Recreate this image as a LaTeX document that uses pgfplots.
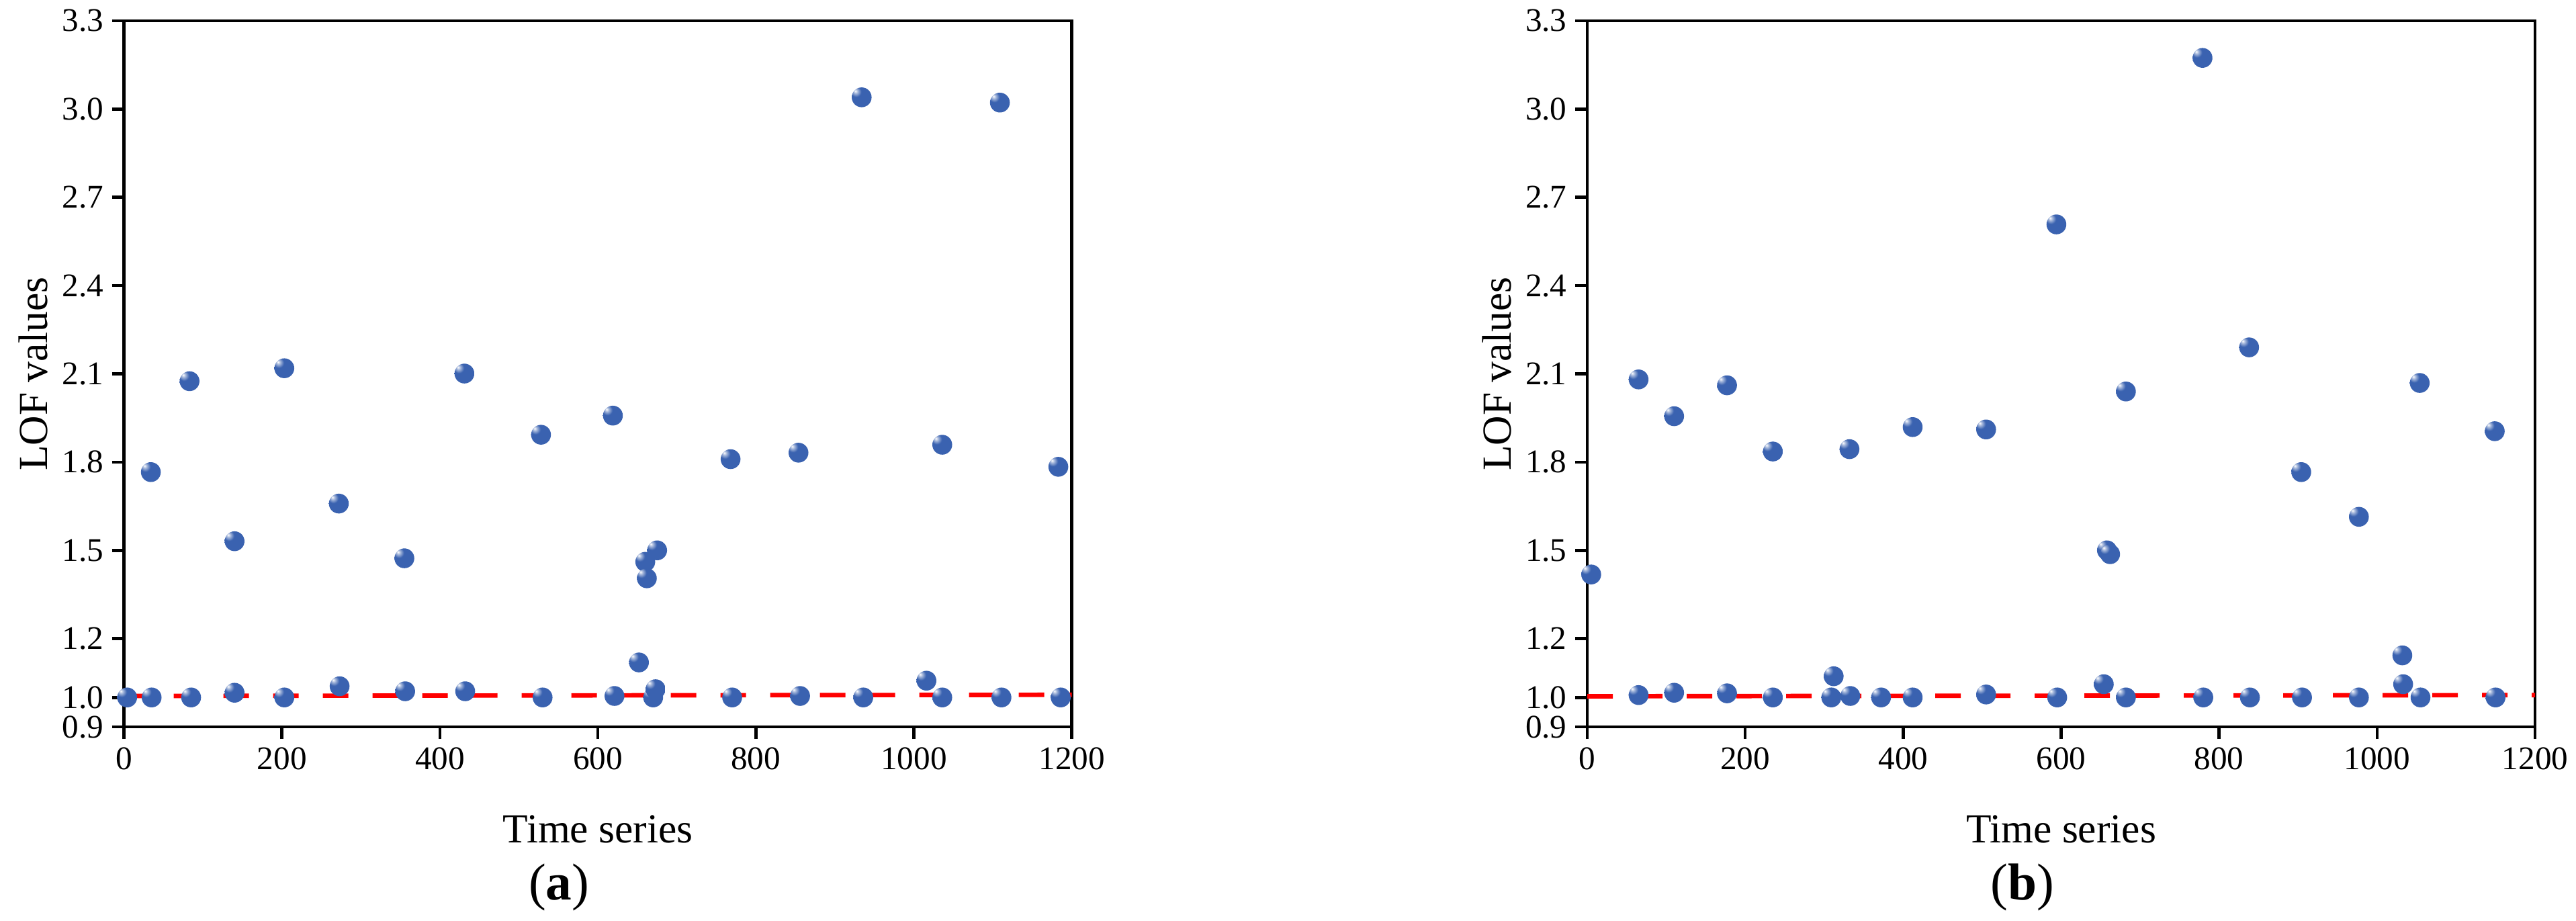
\documentclass[border=0pt]{standalone}
\usepackage{fontspec}
\setmainfont{Liberation Serif}
\usepackage{pgfplots}
\pgfplotsset{compat=1.18}
\definecolor{lofblue}{RGB}{58,98,176}
\pgfdeclareradialshading{lofball}{\pgfpoint{-16bp}{16bp}}{color(0bp)=(white); color(5bp)=(lofblue!45!white); color(13bp)=(lofblue); color(100bp)=(lofblue)}
\pgfdeclareplotmark{lofball}{\pgfpathcircle{\pgfpointorigin}{\pgfplotmarksize}\pgfshadepath{lofball}{0}\pgfusepath{}}

\pgfplotsset{lofstyle/.style={
    scale only axis, width=14.11cm, height=10.51cm, anchor=south west,
    xmin=0, xmax=1200, ymin=0.9, ymax=3.3,
    xtick={0,200,...,1200}, ytick={0.9,1.0,1.2,1.5,1.8,2.1,2.4,2.7,3.0,3.3},
    xtick pos=bottom, ytick pos=left, tick align=outside,
    major tick length=0.18cm, minor tick num=0,
    axis line style={line width=1.3pt}, every tick/.style={black,line width=1.3pt},
    tick label style={font=\fontsize{14}{16}\selectfont},
    /pgf/number format/assume math mode=true, /pgf/number format/1000 sep={},
    yticklabel style={/pgf/number format/fixed,/pgf/number format/fixed zerofill,/pgf/number format/precision=1},
    xlabel={Time series}, ylabel={LOF values},
    label style={font=\fontsize{17.5}{20}\selectfont},
    xlabel style={at={(axis description cs:0.5,0)}, anchor=center, yshift=-1.52cm},
    ylabel style={at={(axis description cs:0,0.5)}, anchor=center, rotate=0, yshift=1.35cm},
    clip=false}}

\begin{document}
\begin{tikzpicture}
\useasboundingbox (0,0) rectangle (38.35,13.7);

\begin{axis}[lofstyle, at={(1.846cm,2.88cm)}]
    \addplot[only marks, mark=lofball, mark size=4.2pt] coordinates {
        (34,1.766)(83,2.075)(140,1.531)(203,2.119)(272,1.659)(355,1.473)(431,2.101)
        (528,1.893)(619,1.958)(652,1.119)(660,1.461)(662,1.405)(675,1.500)(768,1.810)
        (854,1.832)(934,3.040)(1016,1.057)(1036,1.859)(1109,3.022)(1183,1.784)
        (4,1.0)(35,1.0)(85,1.0)(140,1.016)(203,1.0)(273,1.038)(356,1.021)(432,1.021)
        (530,1.0)(621,1.005)(670,1.0)(673,1.028)(770,1.0)(856,1.005)(936,1.0)
        (1036,1.0)(1111,1.0)(1186,1.0)};
    \addplot[red, line width=1.9pt, dash pattern=on 0.38cm off 0.36cm] coordinates {(0,1.005)(1200,1.009)};
    \node[font=\fontsize{22}{24}\selectfont] at (axis description cs:0.5,0) [xshift=-0.58cm, yshift=-2.39cm] {(\textbf{a})};
\end{axis}

\begin{axis}[lofstyle, at={(23.63cm,2.88cm)}]
    \addplot[only marks, mark=lofball, mark size=4.2pt] coordinates {
        (5,1.418)(65,2.081)(110,1.956)(177,2.061)(235,1.836)(332,1.844)(412,1.919)
        (505,1.911)(594,2.608)(658,1.500)(662,1.487)(682,2.040)(779,3.174)(838,2.190)
        (904,1.766)(977,1.614)(1032,1.143)(1054,2.069)(1149,1.905)
        (65,1.008)(110,1.016)(177,1.014)(235,1.0)(309,1.0)(312,1.072)(333,1.005)
        (372,1.0)(412,1.0)(505,1.010)(595,1.0)(654,1.045)(682,1.0)(780,1.0)(839,1.0)
        (905,1.0)(977,1.0)(1033,1.045)(1055,1.0)(1150,1.0)};
    \addplot[red, line width=1.9pt, dash pattern=on 0.38cm off 0.36cm] coordinates {(0,1.004)(1200,1.008)};
    \node[font=\fontsize{22}{24}\selectfont] at (axis description cs:0.5,0) [xshift=-0.58cm, yshift=-2.39cm] {(\textbf{b})};
\end{axis}
\end{tikzpicture}
\end{document}
